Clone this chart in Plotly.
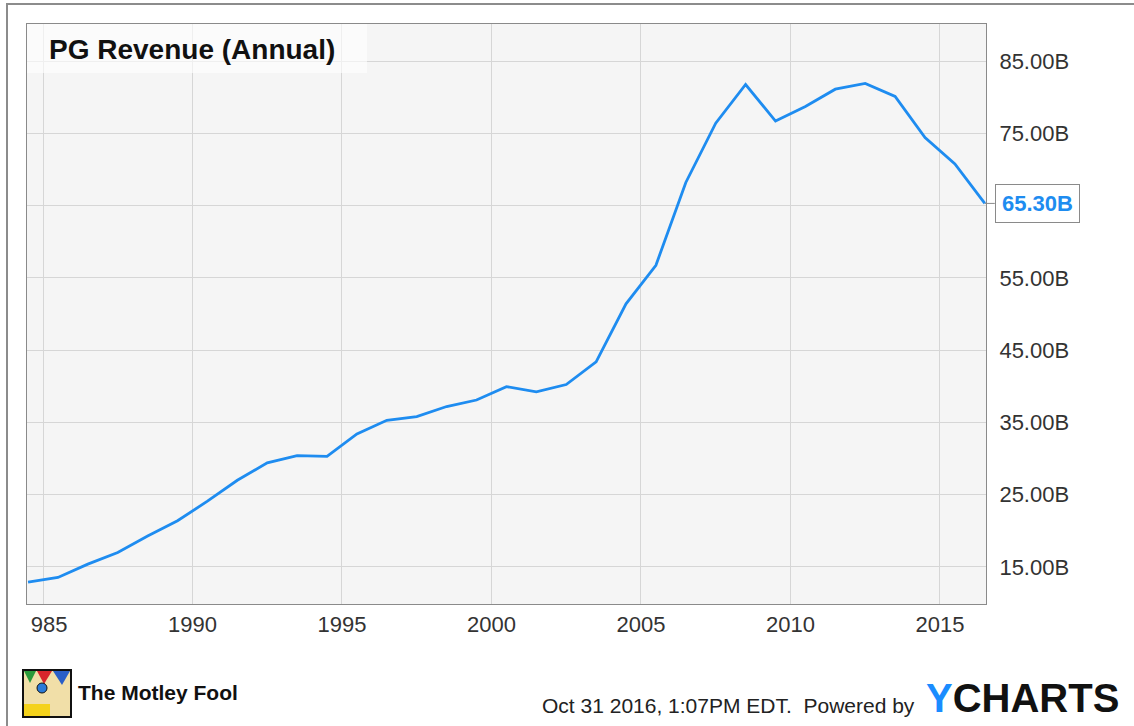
import plotly.graph_objects as go

# ---- data (fiscal years ending June 30) ----
fiscal_years = list(range(1984, 2017))
revenue_b = [12.9, 13.55, 15.4, 17.0, 19.3, 21.4, 24.1, 27.0, 29.4, 30.4,
             30.3, 33.4, 35.3, 35.8, 37.2, 38.1, 39.95, 39.24, 40.24, 43.38,
             51.41, 56.74, 68.2, 76.4, 81.75, 76.69, 78.7, 81.1, 81.9, 80.1,
             74.4, 70.75, 65.30]
x_tick_years = [1985, 1990, 1995, 2000, 2005, 2010, 2015]
y_tick_vals = [15, 25, 35, 45, 55, 65, 75, 85]

# points plotted at mid-year (June 30 fiscal year end)
x_pos = [y + 0.5 for y in fiscal_years]

W, H = 1134, 726
L, R, T, B = 27, 986, 24, 604


def px_x(p):
    return (p - L) / (R - L)


def px_y(p):
    return (B - p) / (B - T)


FONT = "Liberation Sans, Arial, sans-serif"
BLUE = "#1e8cf0"

last_val = revenue_b[-1]
# the last-value box hides the tick label it sits on
y_tick_text = ["" if abs(v - last_val) < 2 else f"{v:.2f}B" for v in y_tick_vals]

fig = go.Figure()
fig.add_trace(go.Scatter(
    x=x_pos, y=revenue_b, mode="lines",
    line=dict(color=BLUE, width=2.8),
    hoverinfo="skip", showlegend=False,
))

fig.update_layout(
    width=W, height=H,
    margin=dict(l=L, r=W - R, t=T, b=H - B),
    paper_bgcolor="white",
    plot_bgcolor="#f5f5f5",
    font=dict(family=FONT, color="#333333"),
    xaxis=dict(
        range=[1984.465, 2016.54],
        tickvals=x_tick_years,
        ticktext=[str(v) for v in x_tick_years],
        showgrid=True, gridcolor="#d6d6d6", gridwidth=1,
        showline=True, linecolor="#8a8a8a", linewidth=1, mirror=True,
        ticks="", ticklabelstandoff=1,
        tickfont=dict(size=22, color="#333333", family=FONT),
        zeroline=False, fixedrange=True,
    ),
    yaxis=dict(
        range=[9.88, 90.12],
        side="right",
        tickvals=y_tick_vals,
        ticktext=y_tick_text,
        showgrid=True, gridcolor="#d6d6d6", gridwidth=1,
        showline=True, linecolor="#8a8a8a", linewidth=1, mirror=True,
        ticks="", ticklabelstandoff=8,
        tickfont=dict(size=22, color="#333333", family=FONT),
        zeroline=False, fixedrange=True,
    ),
)

shapes = []
# outer frame (top & left visible)
shapes.append(dict(type="rect", xref="paper", yref="paper",
                   x0=px_x(7), x1=px_x(1145), y0=px_y(740), y1=px_y(4),
                   line=dict(color="#8c8c8c", width=2), fillcolor="rgba(0,0,0,0)",
                   layer="below"))
# title backdrop
shapes.append(dict(type="rect", xref="paper", yref="paper",
                   x0=0, x1=px_x(367), y0=px_y(73), y1=1,
                   line=dict(width=0), fillcolor="rgba(255,255,255,0.6)",
                   layer="above"))
# emulate clipping of the first x tick label at the plot's left edge
shapes.append(dict(type="rect", xref="paper", yref="paper",
                   x0=px_x(9), x1=px_x(31), y0=px_y(645), y1=px_y(606),
                   line=dict(width=0), fillcolor="white", layer="above"))
# Motley Fool logo approximation
shapes.append(dict(type="rect", xref="paper", yref="paper",
                   x0=px_x(23), x1=px_x(71), y0=px_y(717), y1=px_y(670),
                   line=dict(color="#111111", width=2), fillcolor="#f1dfa8",
                   layer="above"))
shapes.append(dict(type="rect", xref="paper", yref="paper",
                   x0=px_x(24), x1=px_x(50), y0=px_y(716), y1=px_y(704),
                   line=dict(width=0), fillcolor="#f4d21c", layer="above"))
shapes.append(dict(type="path", xref="paper", yref="paper",
                   path=f"M {px_x(24)},{px_y(671)} L {px_x(36)},{px_y(671)} L {px_x(30)},{px_y(683)} Z",
                   line=dict(width=0), fillcolor="#2a9a3a", layer="above"))
shapes.append(dict(type="path", xref="paper", yref="paper",
                   path=f"M {px_x(37)},{px_y(671)} L {px_x(52)},{px_y(671)} L {px_x(44)},{px_y(684)} Z",
                   line=dict(width=0), fillcolor="#d8262c", layer="above"))
shapes.append(dict(type="path", xref="paper", yref="paper",
                   path=f"M {px_x(53)},{px_y(671)} L {px_x(70)},{px_y(671)} L {px_x(62)},{px_y(685)} Z",
                   line=dict(width=0), fillcolor="#2a5fc8", layer="above"))
shapes.append(dict(type="circle", xref="paper", yref="paper",
                   x0=px_x(37), x1=px_x(47), y0=px_y(693), y1=px_y(683),
                   line=dict(color="#111111", width=1), fillcolor="#2a7ad8",
                   layer="above"))
fig.update_layout(shapes=shapes)

annotations = [
    dict(xref="paper", yref="paper", x=px_x(47), y=px_y(50),
         xanchor="left", yanchor="middle", showarrow=False,
         text="<b>PG Revenue (Annual)</b>",
         font=dict(family=FONT, size=28, color="#111111")),
    # last value label
    dict(xref="x", yref="y", x=x_pos[-1], y=last_val,
         text=f"<b>{last_val:.2f}B</b>",
         showarrow=True, arrowhead=0, arrowwidth=1, arrowcolor="#8a8a8a",
         ax=10, ay=0, xanchor="left", yanchor="middle",
         bgcolor="white", bordercolor="#8a8a8a", borderwidth=1, borderpad=6,
         font=dict(family=FONT, size=22, color=BLUE)),
    dict(xref="paper", yref="paper", x=px_x(76), y=px_y(692),
         xanchor="left", yanchor="middle", showarrow=False,
         text="<b>The Motley Fool</b>",
         font=dict(family=FONT, size=21, color="#111111")),
    dict(xref="paper", yref="paper", x=px_x(917), y=px_y(705),
         xanchor="right", yanchor="middle", showarrow=False,
         text="Oct 31 2016, 1:07PM EDT.  Powered by",
         font=dict(family=FONT, size=21, color="#222222")),
    dict(xref="paper", yref="paper", x=px_x(924), y=px_y(698),
         xanchor="left", yanchor="middle", showarrow=False,
         text="<b><span style='color:#1a8cff'>Y</span>CHARTS</b>",
         font=dict(family=FONT, size=40, color="#111111")),
]
fig.update_layout(annotations=annotations)

fig.write_html("out.html")
